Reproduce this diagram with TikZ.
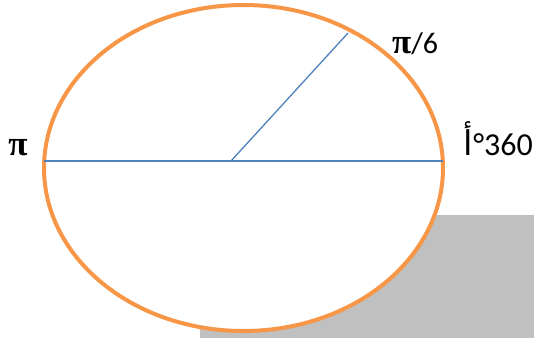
\documentclass[tikz,border=0pt]{standalone}
\usepackage{fontspec}
\setmainfont{Carlito}
\newfontfamily\arabicfont[Script=Arabic]{DejaVu Sans}
\newfontfamily\pifont{Liberation Serif}
\TeXXeTstate=1
\definecolor{orng}{HTML}{F79646}
\definecolor{blu}{HTML}{4F81BD}
\definecolor{gry}{HTML}{C0C0C0}
\tikzset{lbl/.style={inner sep=0pt, font=\fontsize{30}{34}\selectfont},
  biglbl/.style={inner sep=0pt, font=\fontsize{32}{36}\selectfont},
  radius line/.style={blu, line width=1.3pt}}
\newcommand{\bigpi}{{\pifont\bfseries\fontsize{35}{38}\selectfont π}}
\begin{document}
\begin{tikzpicture}[x=1pt,y=-1pt]
\useasboundingbox (0,0) rectangle (534,338);
\fill[gry] (200,215) rectangle (534,338);
\draw[orng, fill=white, line width=4pt] (243.5,168) ellipse [x radius=199.5, y radius=163];
\coordinate (L) at (44,161);
\coordinate (R) at (443,161);
\coordinate (C) at (231,161);
\coordinate (T) at (348,33);
\draw[radius line] (L) -- (R);
\draw[radius line] (C) -- (T);
\node[lbl] (pi) at (18,148) {\bigpi};
\node[lbl, anchor=base west] (pi6) at (392,53) {\bigpi/6};
\node[biglbl, anchor=base east] (deg) at (533,155) {{\arabicfont\fontsize{34}{38}\selectfont\beginR أ\endR}°360};
\end{tikzpicture}
\end{document}
